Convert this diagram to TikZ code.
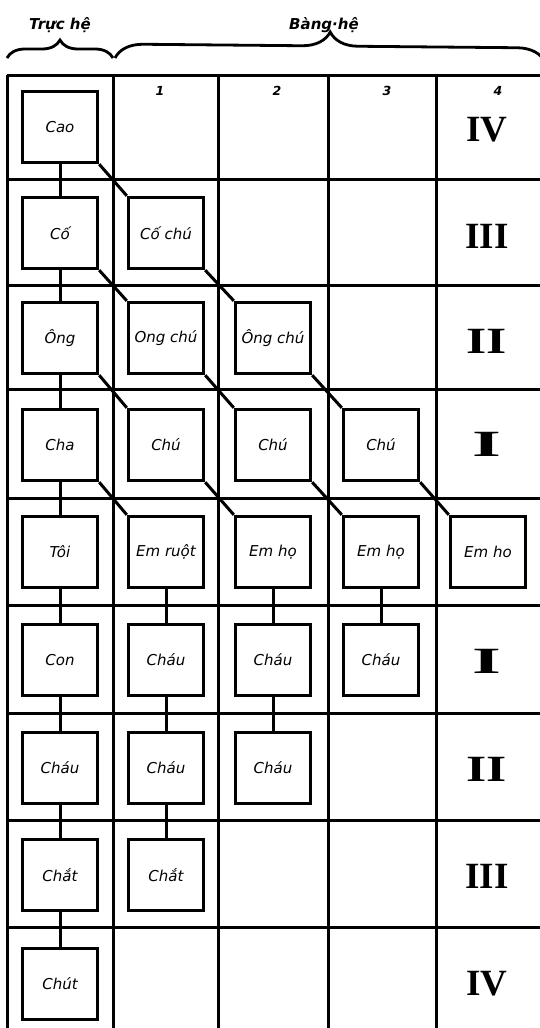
\documentclass[tikz,border=0pt]{standalone}
\usepackage{fontspec}
\setmainfont{DejaVu Sans}
\newfontfamily\romfont{Liberation Serif}
\usetikzlibrary{decorations.pathreplacing}
\begin{document}
\begin{tikzpicture}[x=1pt,y=-1pt,
  gridline/.style={line width=3pt},
  kin/.style={draw, line width=3.4pt, minimum width=75pt, minimum height=71pt, inner sep=0pt,
    font=\fontsize{15}{17}\selectfont\itshape},
  link/.style={line width=3pt},
  roman/.style={font=\fontsize{37}{40}\selectfont\romfont\bfseries, inner sep=0pt},
  colnum/.style={font=\fontsize{12.5}{14}\selectfont\itshape\bfseries, inner sep=0pt},
  head/.style={font=\fontsize{15}{17}\selectfont\itshape\bfseries, inner sep=0pt},
  hbrace/.style={decorate, decoration={brace, amplitude=#1}, line width=2.8pt}]
\useasboundingbox (0,0) rectangle (539,1028);
% grid
\foreach \y in {75,179,285,389,498,605,713,820,927}
  \draw[gridline] (7,\y) -- (541,\y);
\foreach \x in {7,113,218,328,436}
  \draw[gridline] (\x,75) -- (\x,1030);
% header
\node[head] (truc) at (60,25) {Trực hệ};
\node[head] (bang) at (324,25) {Bàng·hệ};
\draw[hbrace=18] (7,58) -- (113,58);
\draw[hbrace=28] (115,58) -- (545,62);
% column numbers
\node[colnum] (n1) at (160,91) {1};
\node[colnum] (n2) at (277,91) {2};
\node[colnum] (n3) at (387,91) {3};
\node[colnum] (n4) at (498,91) {4};
% column 0
\node[kin] (c0r0) at (60,127) {Cao};
\node[kin] (c0r1) at (60,233) {Cố};
\node[kin] (c0r2) at (60,338) {Ông};
\node[kin] (c0r3) at (60,445) {Cha};
\node[kin] (c0r4) at (60,552) {Tôi};
\node[kin] (c0r5) at (60,660) {Con};
\node[kin] (c0r6) at (60,768) {Cháu};
\node[kin] (c0r7) at (60,875) {Chắt};
\node[kin] (c0r8) at (60,984) {Chút};
% column 1
\node[kin] (c1r1) at (166,233) {Cố chú};
\node[kin] (c1r2) at (166,338) {Ong chú};
\node[kin] (c1r3) at (166,445) {Chú};
\node[kin] (c1r4) at (166,552) {Em ruột};
\node[kin] (c1r5) at (166,660) {Cháu};
\node[kin] (c1r6) at (166,768) {Cháu};
\node[kin] (c1r7) at (166,875) {Chắt};
% column 2
\node[kin] (c2r2) at (273,338) {Ông chú};
\node[kin] (c2r3) at (273,445) {Chú};
\node[kin] (c2r4) at (273,552) {Em họ};
\node[kin] (c2r5) at (273,660) {Cháu};
\node[kin] (c2r6) at (273,768) {Cháu};
% column 3
\node[kin] (c3r3) at (381,445) {Chú};
\node[kin] (c3r4) at (381,552) {Em họ};
\node[kin] (c3r5) at (381,660) {Cháu};
% column 4
\node[kin] (c4r4) at (488,552) {Em ho};
% roman numerals
\node[roman] (g0) at (487,130) {IV};
\node[roman] (g1) at (487,236) {III};
\node[roman] (g2) at (487,341) {\scalebox{1.4}[1]{II}};
\node[roman] (g3) at (487,444) {\scalebox{2}[1]{I}};
\node[roman] (g5) at (487,661) {\scalebox{2}[1]{I}};
\node[roman] (g6) at (487,769) {\scalebox{1.4}[1]{II}};
\node[roman] (g7) at (487,876) {III};
\node[roman] (g8) at (487,984) {IV};
% vertical links
\foreach \a/\b in {c0r0/c0r1,c0r1/c0r2,c0r2/c0r3,c0r3/c0r4,c0r4/c0r5,c0r5/c0r6,c0r6/c0r7,c0r7/c0r8,
  c1r4/c1r5,c1r5/c1r6,c1r6/c1r7,c2r4/c2r5,c2r5/c2r6,c3r4/c3r5}
  \draw[link] (\a.south) -- (\b.north);
% diagonal links
\foreach \a/\b in {c0r0/c1r1,c0r1/c1r2,c1r1/c2r2,c0r2/c1r3,c1r2/c2r3,c2r2/c3r3,
  c0r3/c1r4,c1r3/c2r4,c2r3/c3r4,c3r3/c4r4}
  \draw[link] (\a.south east) -- (\b.north west);
\end{tikzpicture}
\end{document}
